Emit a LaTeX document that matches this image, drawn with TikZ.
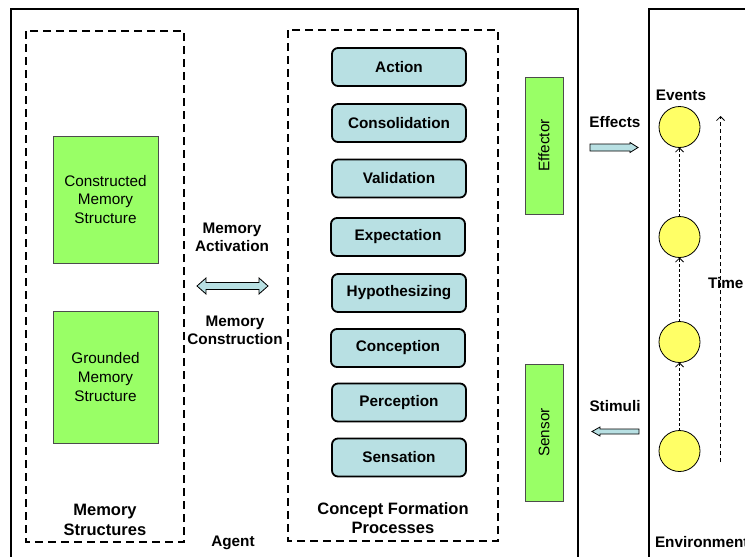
\documentclass[tikz,border=0pt]{standalone}
\usepackage{fontspec}
\setmainfont{Liberation Sans}
\usetikzlibrary{arrows.meta}
\definecolor{leaf}{HTML}{99FF66}
\definecolor{procfill}{HTML}{B8E0E3}
\definecolor{eventfill}{HTML}{FFFF66}
\tikzset{
  every node/.style={inner sep=0pt, outer sep=0pt},
  frame/.style={draw, line width=2pt},
  group/.style={draw, line width=1.8pt, dash pattern=on 8pt off 5pt},
  procbox/.style={draw, line width=1.8pt, rounded corners=6pt, fill=procfill,
    minimum width=134pt, minimum height=38pt,
    font=\bfseries\fontsize{15.3}{18}\selectfont},
  memblock/.style={draw=black!70, line width=0.8pt, fill=leaf, align=center,
    font=\fontsize{15.3}{18.7}\selectfont},
  event/.style={circle, draw, line width=0.8pt, fill=eventfill, minimum size=41pt},
  lbl/.style={font=\bfseries\fontsize{15.3}{18.3}\selectfont, align=center},
  biglbl/.style={font=\bfseries\fontsize{16.5}{19.5}\selectfont, align=center},
  flow/.style={draw, line width=0.8pt, fill=procfill},
  succ/.style={draw, line width=0.8pt, dash pattern=on 3pt off 2pt,
    -{Straight Barb[length=4pt, width=8pt]}},
}
\begin{document}
\begin{tikzpicture}[x=1pt, y=-1pt]
  \useasboundingbox (0,0) rectangle (745,557);
  \clip (0,0) rectangle (745,557);

  % outer frames: agent and environment
  \draw[frame] (11,9) rectangle (578,575);
  \draw[frame] (649,9) rectangle (770,575);

  % dashed groups
  \draw[group] (26,31) rectangle (184,542);
  \draw[group] (288,30) rectangle (498,541);

  % memory structures
  \node[memblock, minimum width=105pt, minimum height=127pt] (constructed) at (105.5,199.5)
    {Constructed\\Memory\\Structure};
  \node[memblock, minimum width=105pt, minimum height=132pt] (grounded) at (105.5,377)
    {Grounded\\Memory\\Structure};
  \node[biglbl] (memlbl) at (105,520) {Memory\\Structures};

  % concept formation processes
  \node[procbox] (action)  at (399,67)  {Action};
  \node[procbox] (consol)  at (399,123) {Consolidation};
  \node[procbox] (valid)   at (399,178.5) {Validation};
  \node[procbox] (expect)  at (398,237) {Expectation};
  \node[procbox] (hypo)    at (399,293) {Hypothesizing};
  \node[procbox] (concep)  at (398,348) {Conception};
  \node[procbox] (percep)  at (399,402.5) {Perception};
  \node[procbox] (sensa)   at (399,457.5) {Sensation};
  \node[biglbl] (cfplbl) at (393,518) {Concept Formation\\Processes};

  % memory activation / construction
  \node[lbl] (actlbl) at (232,237) {Memory\\Activation};
  \node[lbl] (conlbl) at (235,330.5) {Memory\\Construction};
  \draw[flow] (197,286) -- (206,278) -- (206,282.5) -- (259,282.5) -- (259,278)
    -- (268,286) -- (259,294) -- (259,289.5) -- (206,289.5) -- (206,294) -- cycle;
  \node[lbl] (agentlbl) at (233,543) {Agent};

  % effector and sensor
  \node[memblock, rotate=90, minimum width=137pt, minimum height=38pt] (effector)
    at (544,145.5) {Effector};
  \node[memblock, rotate=90, minimum width=137pt, minimum height=38pt] (sensor)
    at (544,432.5) {Sensor};

  % effects and stimuli
  \node[lbl] (effects) at (615,122) {Effects};
  \draw[flow] (590,144) -- (630,144) -- (630,142.5) -- (638,147.5) -- (630,152.5)
    -- (630,151) -- (590,151) -- cycle;
  \node[lbl] (stimuli) at (615,406) {Stimuli};
  \draw[flow] (639,429) -- (600,429) -- (600,427) -- (592,431.5) -- (600,436)
    -- (600,434) -- (639,434) -- cycle;

  % events in the environment
  \node[lbl] (events) at (681,95) {Events};
  \node[event] (ev1) at (679.5,127) {};
  \node[event] (ev2) at (679.5,237) {};
  \node[event] (ev3) at (679.5,342) {};
  \node[event] (ev4) at (679.5,451) {};
  \draw[succ] (ev4.north) -- (ev3.south);
  \draw[succ] (ev3.north) -- (ev2.south);
  \draw[succ] (ev2.north) -- (ev1.south);

  % time axis
  \coordinate (tstart) at (720.5,462);
  \coordinate (tend) at (720.5,116);
  \draw[succ, dash pattern=on 4pt off 3pt] (tstart) -- (tend);
  \node[lbl, anchor=west] (timelbl) at (708,283) {Time};
  \node[lbl, anchor=west] (envlbl) at (655,542) {Environment};
\end{tikzpicture}
\end{document}
